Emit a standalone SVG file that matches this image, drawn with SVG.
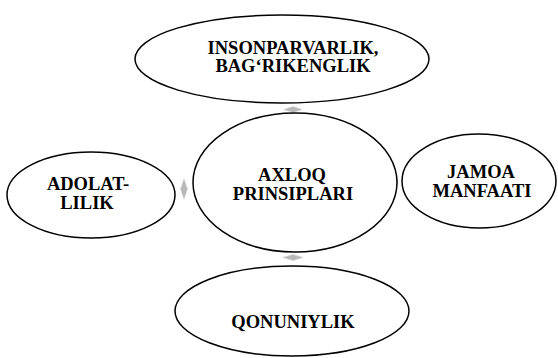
<svg xmlns="http://www.w3.org/2000/svg" width="558" height="358" viewBox="0 0 558 358">
<style>
.node ellipse{fill:#fff;stroke:#000;stroke-width:1.5}
.node text{font-family:"Liberation Serif","Times New Roman",serif;font-weight:700;font-size:18.5px;fill:#000;text-anchor:middle}
.conn polygon{fill:#b8b8b8;stroke:#d0d0d0;stroke-width:0.6}
</style>
<rect width="558" height="358" fill="#fff"/>
<g id="connectors" class="conn">
<polygon points="293,106.5 302,109.5 293,112.5 284,109.5"/>
<polygon points="184,179 187.5,189 184,199 180.5,189"/>
<polygon points="395.5,172 398,182 395.5,192 393,182"/>
<polygon points="293,254.5 303,257.5 293,260.5 283,257.5"/>
</g>
<g id="node-top" class="node">
<ellipse cx="282" cy="59" rx="147" ry="44"/>
<text x="293" y="54">INSONPARVARLIK,</text>
<text x="293" y="72">BAG‘RIKENGLIK</text>
</g>
<g id="node-center" class="node">
<ellipse cx="295" cy="182.5" rx="102" ry="69.5"/>
<text x="292" y="181">AXLOQ</text>
<text x="293" y="200">PRINSIPLARI</text>
</g>
<g id="node-left" class="node">
<ellipse cx="91" cy="195" rx="84" ry="43"/>
<text x="88" y="190">ADOLAT-</text>
<text x="87" y="209">LILIK</text>
</g>
<g id="node-right" class="node">
<ellipse cx="479" cy="181" rx="77" ry="47"/>
<text x="481" y="178">JAMOA</text>
<text x="482" y="197">MANFAATI</text>
</g>
<g id="node-bottom" class="node">
<ellipse cx="292" cy="311" rx="117" ry="45"/>
<text x="293" y="328">QONUNIYLIK</text>
</g>
</svg>
